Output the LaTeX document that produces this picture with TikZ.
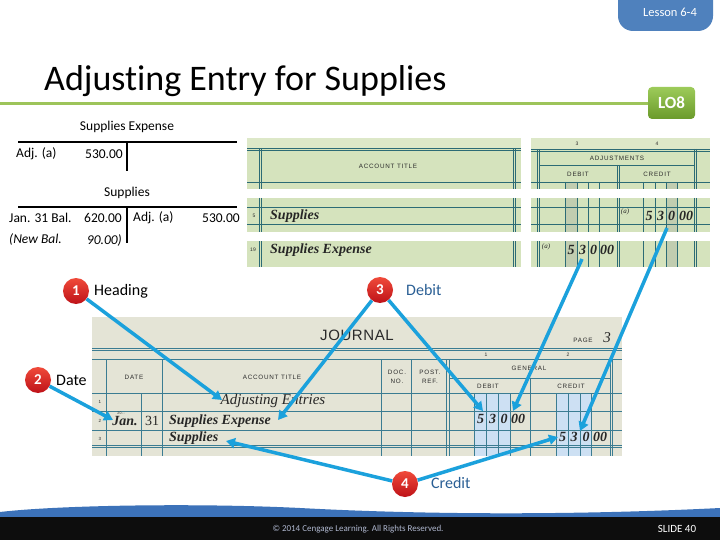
\documentclass[tikz,border=0pt]{standalone}
\usepackage{fontspec}
\setmainfont{Carlito}[Ligatures=NoCommon]
\newfontfamily\jserif{Liberation Serif}
\newfontfamily\fsans[LetterSpace=12]{Liberation Sans}
\newfontfamily\jsans[LetterSpace=4]{Liberation Sans}
\usetikzlibrary{arrows.meta}
\newcommand\fz[1]{\fontsize{#1}{#1}\selectfont}
\definecolor{wsbg}{HTML}{D5E3BD}
\definecolor{wstop}{HTML}{DDE8C8}
\definecolor{wsshade}{HTML}{C1CDB0}
\definecolor{wsline}{HTML}{2C6B75}
\definecolor{jbg}{HTML}{E4E4D6}
\definecolor{jline}{HTML}{3B7C92}
\definecolor{jshade}{HTML}{CDE0F3}
\definecolor{jtext}{HTML}{2A2A2A}
\definecolor{arrowblue}{HTML}{1BA1DC}
\definecolor{credA}{HTML}{F04A3A}
\definecolor{credB}{HTML}{BE1218}
\definecolor{lessonblue}{HTML}{4F81BD}
\definecolor{loA}{HTML}{9DCB5A}
\definecolor{loB}{HTML}{6A9A2A}
\definecolor{titleline}{HTML}{9DC45A}
\definecolor{bluetext}{HTML}{2A5F95}
\definecolor{footblue}{HTML}{3C72B9}
\definecolor{copygray}{HTML}{B0B8D0}
\begin{document}
\begin{tikzpicture}[x=1pt,y=-1pt,
  tline/.style={line width=2.6pt,black},
  ttext/.style={font=\fz{13.5},inner sep=0pt},
  wsl/.style={draw=wsline,line width=0.8pt},
  jl/.style={draw=jline,line width=0.9pt},
  tiny/.style={font=\fsans\fz{6.3},text=jtext,inner sep=0pt},
  hand/.style={font=\jserif\itshape\bfseries\fz{14},text=black!85,inner sep=0pt},
  callout/.style={circle,minimum size=26pt,inner sep=0pt,top color=credA,bottom color=credB,text=white,font=\bfseries\fz{15}},
  clabel/.style={font=\fz{16},inner sep=0pt,anchor=west},
  arr/.style={draw=arrowblue,line width=3.5pt,-{Triangle[length=9pt,width=10pt]}}]
\useasboundingbox (0,0) rectangle (720,540);
\fill[white] (0,0) rectangle (720,540);

% ---------- header ----------
\fill[lessonblue,rounded corners=15pt] (618,-20) rectangle (713,31);
\node[font=\fz{12.5},text=white,inner sep=0pt] (lesson) at (670,12) {Lesson 6-4};
\node[font=\fz{36},anchor=base west,inner sep=0pt] (title) at (44,91) {Adjusting Entry for Supplies};
\draw[titleline,line width=3pt] (0,104) -- (648,104);
\node[rounded corners=4pt,top color=loA,bottom color=loB,minimum width=47pt,minimum height=32pt,
  text=white,font=\bfseries\fz{17},inner sep=0pt] (lo) at (671.5,103) {LO8};

% ---------- T accounts ----------
\node[ttext] (sename) at (127,127) {Supplies Expense};
\draw[tline] (18,142) -- (237,142);
\draw[tline] (127,142) -- (127,171);
\node[ttext,anchor=west] (se1) at (16,154) {Adj. (a)};
\node[ttext,anchor=east] (se2) at (123,154) {530.00};

\node[ttext] (sname) at (127,193) {Supplies};
\draw[tline] (18,207) -- (237,207);
\draw[tline] (127,207) -- (127,243);
\node[ttext,anchor=west] (s1) at (9,218) {Jan. 31 Bal.};
\node[ttext,anchor=east] (s2) at (122,218) {620.00};
\node[ttext,anchor=west] (s3) at (133,218) {Adj. (a)};
\node[ttext,anchor=east] (s4) at (240,218) {530.00};
\node[ttext,anchor=west,font=\itshape\fz{13.5}] (s5) at (9,240) {(New Bal.};
\node[ttext,anchor=east,font=\itshape\fz{13.5}] (s6) at (122,240) {90.00)};

% ---------- worksheet, left part ----------
\foreach \a/\b in {138/189,198/232,241/267} {\fill[wsbg] (247,\a) rectangle (521,\b);}
\fill[wstop] (247,138) rectangle (521,148);
\draw[wsl] (247,148.5) -- (521,148.5) (247,150.8) -- (521,150.8) (247,182) -- (521,182)
  (247,207) -- (521,207) (247,224) -- (521,224);
\foreach \a/\b in {148/189,198/232,241/267}
  {\draw[wsl] (259,\a) -- (259,\b) (261.3,\a) -- (261.3,\b) (513,\a) -- (513,\b) (515.3,\a) -- (515.3,\b);}
\node[tiny] (wsat) at (388,166) {ACCOUNT TITLE};
\node[tiny,font=\fsans\fz{5}] (wsr5) at (254,216) {5};
\node[tiny,font=\jsans\fz{5}] (wsr19) at (253,250) {19};
\node[hand,anchor=west] (wss) at (270,216) {Supplies};
\node[hand,anchor=west] (wsse) at (270,250) {Supplies Expense};

% ---------- worksheet, right part ----------
\foreach \a/\b in {138/189,198/232,241/267} {\fill[wsbg] (531,\a) rectangle (710,\b);}
\fill[wstop] (531,138) rectangle (710,149);
\foreach \a/\b in {182/189,198/232,241/267}
  {\fill[wsshade] (565,\a) rectangle (577,\b); \fill[wsshade] (666,\a) rectangle (677,\b);
   \draw[wsl] (565,\a) -- (565,\b) (577,\a) -- (577,\b) (588,\a) -- (588,\b) (599,\a) -- (599,\b)
     (643,\a) -- (643,\b) (655,\a) -- (655,\b) (666,\a) -- (666,\b) (677,\a) -- (677,\b);}
\draw[wsl] (531,149) -- (710,149) (531,151.3) -- (710,151.3) (539,165) -- (694,165) (531,182) -- (710,182)
  (531,207) -- (710,207) (531,224) -- (710,224);
\foreach \a/\b in {149/189,198/232,241/267}
  {\draw[wsl] (537,\a) -- (537,\b) (539.3,\a) -- (539.3,\b) (694,\a) -- (694,\b) (696.3,\a) -- (696.3,\b);}
\foreach \a/\b in {165/189,198/232,241/267}
  {\draw[wsl] (617,\a) -- (617,\b) (619,\a) -- (619,\b);}
\node[tiny,font=\fsans\fz{5}] (wsn3) at (577,144) {3};
\node[tiny,font=\fsans\fz{5}] (wsn4) at (657,144) {4};
\node[tiny] (wsadj) at (617,158) {ADJUSTMENTS};
\node[tiny] (wsdeb) at (578,174) {DEBIT};
\node[tiny] (wscre) at (657,174) {CREDIT};
\node[hand,font=\jserif\itshape\fz{7}] (wsa1) at (625,212) {(a)};
\node[hand] (wc5) at (649,216) {5};
\node[hand] (wc3) at (660.5,216) {3};
\node[hand] (wc0) at (671.5,216) {0};
\node[hand] (wc00) at (686,216) {00};
\node[hand,font=\jserif\itshape\fz{7}] (wsa2) at (546,247) {(a)};
\node[hand] (wd5) at (571,250) {5};
\node[hand] (wd3) at (582.5,250) {3};
\node[hand] (wd0) at (593.5,250) {0};
\node[hand] (wd00) at (607,250) {00};

% ---------- journal ----------
\fill[jbg] (92,317) rectangle (622,456);
\fill[jshade] (474,393.5) rectangle (510,456);
\fill[jshade] (557,393.5) rectangle (592,456);
\draw[jl] (92,348.3) -- (622,348.3) (92,350.8) -- (622,350.8);
\draw[jl,line width=1.3pt] (92,359.5) -- (622,359.5);
\draw[jl] (92,393.5) -- (622,393.5) (92,411.7) -- (622,411.7) (92,430) -- (622,430);
\draw[jl,line width=1.4pt] (92,445.2) -- (622,445.2) (92,447.6) -- (622,447.6);
\draw[jl] (106,359.5) -- (106,456) (162.7,359.5) -- (162.7,456) (141.7,393.5) -- (141.7,456)
  (381.7,359.5) -- (381.7,456) (411.7,359.5) -- (411.7,456)
  (446.7,359.5) -- (446.7,456) (449,359.5) -- (449,456)
  (610,359.5) -- (610,456) (612.3,359.5) -- (612.3,456)
  (449,378.3) -- (610,378.3) (530,378.3) -- (530,456)
  (474.3,393.5) -- (474.3,456) (486.7,393.5) -- (486.7,456) (498.3,393.5) -- (498.3,456) (510,393.5) -- (510,456)
  (556.7,393.5) -- (556.7,456) (568.3,393.5) -- (568.3,456) (580,393.5) -- (580,456) (591.7,393.5) -- (591.7,456);
\node[font=\jsans\fz{15},text=jtext,inner sep=0pt] (jtitle) at (357,335) {JOURNAL};
\node[tiny] (jpage) at (583,340) {PAGE};
\node[hand,font=\jserif\itshape\fz{15}] (jpage3) at (607,338) {3};
\node[tiny,font=\fsans\fz{5}] (jc1) at (486,355) {1};
\node[tiny,font=\fsans\fz{5}] (jc2) at (568,355) {2};
\node[tiny] (jdate) at (134,377) {DATE};
\node[tiny] (jat) at (272,377) {ACCOUNT TITLE};
\node[tiny] (jdoc1) at (397,372) {DOC.};
\node[tiny] (jdoc2) at (397,381) {NO.};
\node[tiny] (jpost1) at (430,372) {POST.};
\node[tiny] (jpost2) at (430,381) {REF.};
\node[tiny] (jgen) at (529,368) {GENERAL};
\node[tiny] (jdeb) at (488,386) {DEBIT};
\node[tiny] (jcre) at (571,386) {CREDIT};
\node[tiny,font=\fsans\fz{4.5}] (jr1) at (100,402) {1};
\node[tiny,font=\fsans\fz{4.5}] (jr2) at (100,421) {2};
\node[tiny,font=\fsans\fz{4.5}] (jr3) at (100,439) {3};
\node[hand,font=\jserif\itshape\fz{15}] (jadj) at (273,401) {Adjusting Entries};
\node[tiny,font=\fsans\fz{3.5}] (jyr) at (121,413) {20--};
\node[hand] (jjan) at (125,421) {Jan.};
\node[hand,font=\jserif\fz{14}] (j31) at (152,421) {31};
\node[hand,anchor=west] (jse) at (169,421) {Supplies Expense};
\node[hand,anchor=west] (js) at (169,438) {Supplies};
\node[hand] (jd5) at (480.5,419) {5};
\node[hand] (jd3) at (492.5,419) {3};
\node[hand] (jd0) at (504,419) {0};
\node[hand] (jd00) at (518,419) {00};
\node[hand] (jk5) at (562.5,437) {5};
\node[hand] (jk3) at (574,437) {3};
\node[hand] (jk0) at (586,437) {0};
\node[hand] (jk00) at (600,437) {00};

% ---------- callouts ----------
\node[callout] (c1) at (76,291) {1};
\node[clabel] (l1) at (94,291) {Heading};
\node[callout] (c2) at (38,380) {2};
\node[clabel] (l2) at (56,380) {Date};
\node[callout] (c3) at (380,290) {3};
\node[clabel,text=bluetext] (l3) at (406,290) {Debit};
\node[callout] (c4) at (405,484) {4};
\node[clabel,text=bluetext] (l4) at (431,483) {Credit};

\coordinate (t1) at (222,400);
\coordinate (t2) at (113,420);
\coordinate (t3a) at (278,420);
\coordinate (t3b) at (483,411);
\coordinate (t4a) at (226,441);
\coordinate (t4b) at (558,437);
\coordinate (w1s) at (582,259);
\coordinate (w1e) at (513,411);
\coordinate (w2s) at (667,228);
\coordinate (w2e) at (580,431);
\draw[arr] (c1) -- (t1);
\draw[arr] (c2) -- (t2);
\draw[arr] (c3) -- (t3a);
\draw[arr] (c3) -- (t3b);
\draw[arr] (c4) -- (t4a);
\draw[arr] (c4) -- (t4b);
\draw[arr] (w1s) -- (w1e);
\draw[arr] (w2s) -- (w2e);

% ---------- footer ----------
\fill[footblue] (0,512) .. controls (60,505) and (200,503) .. (300,508)
  .. controls (450,516) and (600,514) .. (720,508) -- (720,520) -- (0,520) -- cycle;
\fill[black!95] (0,517) rectangle (720,540);
\node[font=\fz{9},text=copygray,inner sep=0pt] (copy) at (358,529) {© 2014 Cengage Learning. All Rights Reserved.};
\node[font=\fz{11},text=white,inner sep=0pt] (slide) at (677,529) {SLIDE 40};
\end{tikzpicture}
\end{document}
